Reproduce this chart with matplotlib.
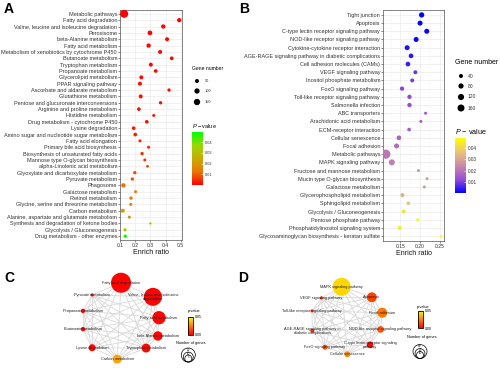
import itertools
import numpy as np
import matplotlib
matplotlib.use("Agg")
import matplotlib.pyplot as plt
from matplotlib.colors import LinearSegmentedColormap, Normalize
from matplotlib.cm import ScalarMappable
from matplotlib.patches import Circle
from matplotlib.ticker import FixedLocator

plt.rcParams['font.family'] = 'Liberation Sans'
plt.rcParams['mathtext.fontset'] = 'custom'
plt.rcParams['mathtext.it'] = 'Liberation Sans:italic'
plt.rcParams['mathtext.rm'] = 'Liberation Sans'

# ---------------- panel A: KEGG enrichment, set 1
a_terms = ["Metabolic pathways", "Fatty acid degradation",
           "Valine, leucine and isoleucine degradation", "Peroxisome",
           "beta-Alanine metabolism", "Fatty acid metabolism",
           "Metabolism of xenobiotics by cytochrome P450", "Butanoate metabolism",
           "Tryptophan metabolism", "Propanoate metabolism", "Glycerolipid metabolism",
           "PPAR signaling pathway", "Ascorbate and aldarate metabolism",
           "Glutathione metabolism", "Pentose and glucuronate interconversions",
           "Arginine and proline metabolism", "Histidine metabolism",
           "Drug metabolism - cytochrome P450", "Lysine degradation",
           "Amino sugar and nucleotide sugar metabolism", "Fatty acid elongation",
           "Primary bile acid biosynthesis", "Biosynthesis of unsaturated fatty acids",
           "Mannose type O-glycan biosynthesis", "alpha-Linolenic acid metabolism",
           "Glyoxylate and dicarboxylate metabolism", "Pyruvate metabolism",
           "Phagosome", "Galactose metabolism", "Retinol metabolism",
           "Glycine, serine and threonine metabolism", "Carbon metabolism",
           "Alanine, aspartate and glutamate metabolism",
           "Synthesis and degradation of ketone bodies",
           "Glycolysis / Gluconeogenesis", "Drug metabolism - other enzymes"]
a_ratio = [0.127, 0.49, 0.385, 0.297, 0.41, 0.288, 0.364, 0.441, 0.303, 0.335,
           0.24, 0.231, 0.423, 0.236, 0.367, 0.224, 0.322, 0.276, 0.19, 0.20,
           0.231, 0.288, 0.245, 0.263, 0.281, 0.197, 0.181, 0.122, 0.202, 0.172,
           0.17, 0.118, 0.161, 0.30, 0.132, 0.134]
a_genes = [250, 61, 61, 75, 50, 61, 50, 40, 50, 40, 50, 50, 30, 50, 30, 40, 21,
           40, 40, 40, 21, 21, 30, 21, 13, 30, 30, 61, 21, 30, 21, 50, 21, 6, 30, 30]
a_pval = [0.0002, 0.0003, 0.0003, 0.0005, 0.0005, 0.0006, 0.0008, 0.0009, 0.001,
          0.001, 0.0012, 0.0014, 0.0016, 0.0017, 0.0018, 0.002, 0.0022, 0.0025,
          0.003, 0.0032, 0.0038, 0.0045, 0.005, 0.0055, 0.006, 0.008, 0.009,
          0.012, 0.013, 0.014, 0.015, 0.022, 0.018, 0.030, 0.036, 0.0495]
a_xticks = [0.1, 0.2, 0.3, 0.4, 0.5]
a_xlabels = ["0.1", "0.2", "0.3", "0.4", "0.5"]
a_size_legend = [50, 100, 150]
a_p_ticks = [0.01, 0.02, 0.03, 0.04]

# ---------------- panel B: KEGG enrichment, set 2
b_terms = ["Tight junction", "Apoptosis", "C-type lectin receptor signaling pathway",
           "NOD-like receptor signaling pathway", "Cytokine-cytokine receptor interaction",
           "AGE-RAGE signaling pathway in diabetic complications",
           "Cell adhesion molecules (CAMs)", "VEGF signaling pathway",
           "Inositol phosphate metabolism", "FoxO signaling pathway",
           "Toll-like receptor signaling pathway", "Salmonella infection",
           "ABC transporters", "Arachidonic acid metabolism", "ECM-receptor interaction",
           "Cellular senescence", "Focal adhesion", "Metabolic pathways",
           "MAPK signaling pathway", "Fructose and mannose metabolism",
           "Mucin type O-glycan biosynthesis", "Galactose metabolism",
           "Glycerophospholipid metabolism", "Sphingolipid metabolism",
           "Glycolysis / Gluconeogenesis", "Pentose phosphate pathway",
           "Phosphatidylinositol signaling system",
           "Glycosaminoglycan biosynthesis - keratan sulfate"]
b_ratio = [0.204, 0.20, 0.217, 0.19, 0.167, 0.177, 0.169, 0.188, 0.18, 0.154,
           0.173, 0.173, 0.214, 0.202, 0.172, 0.146, 0.14, 0.1125, 0.128, 0.196,
           0.218, 0.211, 0.155, 0.17, 0.158, 0.194, 0.148, 0.254]
b_genes = [84, 73, 73, 73, 73, 62, 62, 40, 40, 49, 49, 49, 15, 15, 32, 62, 73,
           290, 113, 15, 15, 15, 40, 26, 40, 15, 40, 5]
b_pval = [0.0003, 0.0006, 0.0008, 0.001, 0.003, 0.004, 0.005, 0.009, 0.010,
          0.011, 0.012, 0.012, 0.014, 0.015, 0.015, 0.017, 0.018, 0.021, 0.022,
          0.027, 0.028, 0.028, 0.032, 0.036, 0.042, 0.047, 0.045, 0.049]
b_xticks = [0.15, 0.20, 0.25]
b_xlabels = ["0.15", "0.20", "0.25"]
b_size_legend = [40, 80, 120, 160]
b_p_ticks = [0.01, 0.02, 0.03, 0.04]

# ---------------- panel C: pathway network, set 1
c_nodes = ["Fatty acid degradation", "Valine, leucine and isoleucine\ndegradation",
           "Fatty acid metabolism", "beta-Alanine metabolism", "Tryptophan metabolism",
           "Carbon metabolism", "Lysine degradation", "Butanoate metabolism",
           "Propanoate metabolism", "Pyruvate metabolism"]
c_x = [0.0, 0.84, 1.0, 0.97, 0.66, -0.10, -0.76, -1.0, -1.0, -0.76]
c_y = [0.98, 0.61, 0.06, -0.42, -0.74, -1.03, -0.73, -0.24, 0.24, 0.66]
c_genes = [41, 33, 18, 9, 8, 8, 5, 2, 2, 1]
c_pval = [0.0005, 0.0005, 0.0008, 0.001, 0.001, 0.032, 0.0015, 0.001, 0.001, 0.002]
c_size_legend = [20, 10, 5]

# ---------------- panel D: pathway network, set 2
d_nodes = ["MAPK signaling pathway", "Apoptosis", "Focal adhesion",
           "NOD-like receptor signaling pathway",
           "C-type lectin receptor signaling\npathway", "Cellular senescence",
           "FoxO signaling pathway", "AGE-RAGE signaling pathway in\ndiabetic complications",
           "Toll-like receptor signaling pathway", "VEGF signaling pathway"]
d_x = [-0.18, 0.68, 0.98, 0.93, 0.63, -0.02, -0.66, -1.02, -1.03, -0.76]
d_y = [0.95, 0.65, 0.21, -0.27, -0.71, -0.98, -0.78, -0.31, 0.26, 0.63]
d_genes = [66, 20, 20, 9, 9, 7, 5, 3, 2, 2]
d_pval = [0.042, 0.013, 0.023, 0.016, 0.001, 0.027, 0.015, 0.006, 0.01, 0.01]
d_size_legend = [40, 20, 10]

# colour scales (ggplot-like gradients, Lab-interpolated stops)
cmap_a = LinearSegmentedColormap.from_list(
    "rg", ["#FF0000", "#E87600", "#C9AB00", "#98D700", "#00FF00"])
cmap_b = LinearSegmentedColormap.from_list(
    "by", ["#0000FF", "#9850D5", "#CA8AAA", "#EAC476", "#FFFF00"])
cmap_net = LinearSegmentedColormap.from_list("ry", ["#FF0000", "#FF8000", "#FFFF00"])

W, H = 500, 368
fig = plt.figure(figsize=(5, 3.68), dpi=100)


def px_axes(l, t, r, b):
    return fig.add_axes([l / W, 1 - b / H, (r - l) / W, (b - t) / H])


def dot_panel(box, terms, ratio, genes, pval, cmap, k, c, xticks, xlabels):
    ax = px_axes(*box)
    n = len(terms)
    y = np.arange(n)
    d2 = c + k * np.asarray(genes)  # squared dot diameter, px
    ax.scatter(ratio, y, s=0.5184 * d2, c=pval, cmap=cmap,
               vmin=min(pval), vmax=max(pval), linewidths=0, zorder=3)
    lo, hi = min(ratio), max(ratio)
    pad = 0.05 * (hi - lo)
    ax.set_xlim(lo - pad, hi + pad)
    ax.set_ylim(n - 1 + 0.6, -0.6)
    ax.set_yticks(y)
    ax.set_yticklabels(terms, fontsize=4, color="#333333")
    ax.set_xticks(xticks)
    ax.set_xticklabels(xlabels, fontsize=3.6, color="#333333")
    step = xticks[1] - xticks[0]
    ax.xaxis.set_minor_locator(FixedLocator(
        [xticks[0] - step / 2] + [t + step / 2 for t in xticks]))
    ax.tick_params(which="major", length=1.3, width=0.4, color="#333333", pad=0.8)
    ax.tick_params(which="minor", length=0)
    ax.grid(which="major", color="#EBEBEB", lw=0.5)
    ax.grid(which="minor", axis="x", color="#F4F4F4", lw=0.35)
    ax.set_axisbelow(True)
    for s in ax.spines.values():
        s.set_color("#555555")
        s.set_linewidth(0.5)
    ax.set_xlabel("Enrich ratio", fontsize=5, labelpad=1, color="#111111")
    return ax


def p_colorbar(box, cmap, vmin, vmax, ticks, fs):
    cax = px_axes(*box)
    cb = fig.colorbar(ScalarMappable(Normalize(vmin, vmax), cmap), cax=cax)
    cb.outline.set_visible(False)
    cb.set_ticks(ticks)
    cb.set_ticklabels([f"{t:.2f}" for t in ticks])
    cax.tick_params(labelsize=fs, length=1.5, width=0.4, color="white",
                    direction="in", pad=1.2, labelcolor="#333333")


def net_panel(center, scale, box, nodes, nx, ny, genes, pval, ref_n, ref_r):
    ax = px_axes(*box)
    cx, cy = center
    l, t, r, b = box
    ax.set_xlim((l - cx) / scale, (r - cx) / scale)
    ax.set_ylim((cy - b) / scale, (cy - t) / scale)
    ax.axis("off")
    for i, j in itertools.combinations(range(len(nodes)), 2):
        ax.plot([nx[i], nx[j]], [ny[i], ny[j]], color="#d9d9d9", lw=0.6, zorder=1)
    r_px = ref_r * np.sqrt(np.asarray(genes) / ref_n)
    ax.scatter(nx, ny, s=(2 * r_px * 0.72) ** 2, c=pval, cmap=cmap_net,
               vmin=0, vmax=0.05, linewidths=0, zorder=2)
    for name, x, y in zip(nodes, nx, ny):
        ax.text(x, y, name, ha="center", va="center", fontsize=2.8,
                color="#222222", zorder=3, linespacing=1.0)
    return ax


# A and B dot plots
dot_panel((120, 10, 182, 240), a_terms, a_ratio, a_genes, a_pval, cmap_a,
          0.24, 4, a_xticks, a_xlabels)
dot_panel((383, 10, 444, 241), b_terms, b_ratio, b_genes, b_pval, cmap_b,
          0.275, 5, b_xticks, b_xlabels)
p_colorbar((192, 132, 203, 185), cmap_a, min(a_pval), max(a_pval), a_p_ticks, 2.8)
p_colorbar((455, 138, 466, 193), cmap_b, min(b_pval), max(b_pval), b_p_ticks, 3.4)

# C and D networks
net_panel((121, 320), 38, (40, 262, 200, 368), c_nodes, c_x, c_y,
          c_genes, c_pval, c_size_legend[0], 7)
net_panel((348, 320), 35, (262, 262, 415, 368), d_nodes, d_x, d_y,
          d_genes, d_pval, d_size_legend[0], 7)

for box in [(188, 316.7, 193, 335), (418.3, 310.7, 422.7, 328.3)]:
    cax = px_axes(*box)
    cb = fig.colorbar(ScalarMappable(Normalize(0, 0.05), cmap_net), cax=cax)
    cb.outline.set_linewidth(0.6)
    cb.set_ticks([0.0, 0.05])
    cb.set_ticklabels(["0.00", "0.05"])
    cax.tick_params(labelsize=2.6, length=0, pad=1.5)

# overlay for legends and panel letters
ov = fig.add_axes([0, 0, 1, 1])
ov.set_xlim(0, W)
ov.set_ylim(H, 0)
ov.axis("off")

for letter, x, y in [("A", 9, 9), ("B", 244, 9), ("C", 9, 278), ("D", 243, 278)]:
    ov.text(x, y, letter, fontsize=10, fontweight="bold", ha="center", va="center")

# A legends
ov.text(192, 69, "Gene number", fontsize=3.6, va="center")
ya = [81, 91, 102]
ov.scatter([197] * 3, ya, s=0.5184 * (4 + 0.24 * np.array(a_size_legend)),
           c="black", linewidths=0)
for v, y in zip(a_size_legend, ya):
    ov.text(205, y, str(v), fontsize=2.8, va="center", color="#333333")
ov.text(192, 126, r"$P$ − value", fontsize=4, va="center")

# B legends
ov.text(455, 63, "Gene number", fontsize=5, va="center")
yb = [76, 86, 97, 108]
ov.scatter([461] * 4, yb, s=0.5184 * (5 + 0.275 * np.array(b_size_legend)),
           c="black", linewidths=0)
for v, y in zip(b_size_legend, yb):
    ov.text(468, y, str(v), fontsize=3.6, va="center", color="#333333")
ov.text(455, 132, r"$P$ − value", fontsize=5.2, va="center")

# C / D legends
def size_legend(cx, bottom, ref_r, vals):
    for v in vals:
        r = ref_r * np.sqrt(v / vals[0])
        ov.add_patch(Circle((cx, bottom - r), r, fill=False, lw=0.5, ec="black"))
        ov.text(cx, bottom - 2 * r + 1.6, str(v), ha="center", va="center", fontsize=2.2)


ov.text(188, 311, "p-value", fontsize=2.8, va="center")
ov.text(191, 342.7, "Number of genes", fontsize=2.8, ha="center", va="center")
size_legend(188.3, 362, 7, c_size_legend)
ov.text(417, 307, "p-value", fontsize=2.8, va="center")
ov.text(421.7, 337.3, "Number of genes", fontsize=2.8, ha="center", va="center")
size_legend(420, 358.5, 7, d_size_legend)

fig.savefig("out.png", dpi=100)
